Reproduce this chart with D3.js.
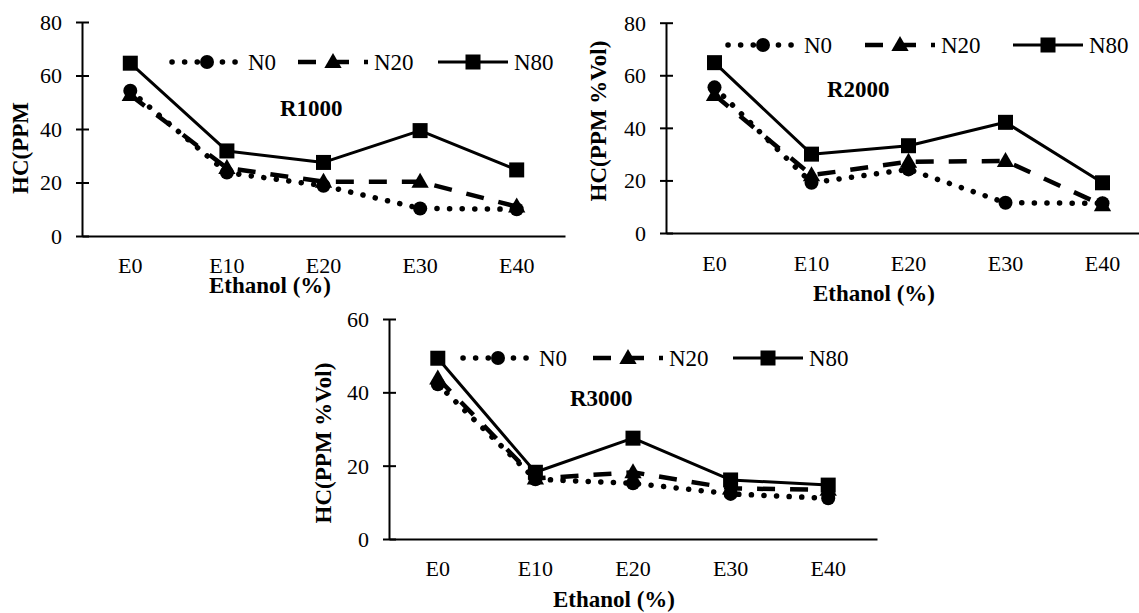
<!DOCTYPE html>
<html>
<head>
<meta charset="utf-8">
<script src="https://cdn.jsdelivr.net/npm/d3@7"></script>
<style>
  html, body { margin: 0; padding: 0; background: #fff; }
  svg { display: block; }
  svg text { font-family: "Liberation Serif", "Times New Roman", Tinos, "DejaVu Serif", serif; fill: #000; }
</style>
</head>
<body>
<svg id="chart" width="1139" height="613"></svg>
<script>
// ---- data ----
const categories = ["E0", "E10", "E20", "E30", "E40"];
const seriesNames = ["N0", "N20", "N80"];

const r1000_N0  = [54.3, 23.7, 18.8, 10.3, 10.0];
const r1000_N20 = [52.7, 25.4, 20.3, 20.3, 11.0];
const r1000_N80 = [64.6, 31.8, 27.5, 39.4, 24.7];

const r2000_N0  = [55.4, 19.1, 24.2, 11.5, 11.3];
const r2000_N20 = [52.5, 22.0, 27.1, 27.4, 10.6];
const r2000_N80 = [64.8, 30.0, 33.2, 42.1, 19.1];

const r3000_N0  = [42.2, 16.3, 15.2, 12.3, 11.1];
const r3000_N20 = [43.8, 16.5, 18.2, 13.8, 13.4];
const r3000_N80 = [49.3, 18.2, 27.5, 16.1, 14.7];

const ticks80 = [0, 20, 40, 60, 80];
const ticks60 = [0, 20, 40, 60];

const xTitle = "Ethanol (%)";

// ---- layout ----
const charts = [
  { label: "R1000", yTitle: "HC(PPM", series: [r1000_N0, r1000_N20, r1000_N80], ticks: ticks80, yMax: 80,
    axisX: 82, axisEnd: 565, yTop: 22, yBot: 236, tickBase: 273,
    xTitleCx: 270, xTitleY: 293, yTitleCx: 20, yTitleCy: 148,
    labelX: 280, labelY: 116, legendY: 62, legendX: [172, 298, 438] },
  { label: "R2000", yTitle: "HC(PPM %Vol)", series: [r2000_N0, r2000_N20, r2000_N80], ticks: ticks80, yMax: 80,
    axisX: 666, axisEnd: 1151, yTop: 22.7, yBot: 233, tickBase: 271,
    xTitleCx: 874, xTitleY: 301, yTitleCx: 598, yTitleCy: 121,
    labelX: 827, labelY: 97, legendY: 45, legendX: [728, 865, 1013] },
  { label: "R3000", yTitle: "HC(PPM %Vol)", series: [r3000_N0, r3000_N20, r3000_N80], ticks: ticks60, yMax: 60,
    axisX: 389, axisEnd: 877, yTop: 319, yBot: 539, tickBase: 576,
    xTitleCx: 614, xTitleY: 607, yTitleCx: 323, yTitleCy: 443,
    labelX: 570, labelY: 406, legendY: 358, legendX: [463, 593, 733] }
];

const styles = [
  { width: 5.5, dash: "0.1 12.5", cap: "round", marker: "circle" },
  { width: 4.5, dash: "18 15", cap: "butt", marker: "triangle" },
  { width: 3, dash: null, cap: "butt", marker: "square" }
];

const FONT = "'Liberation Serif', 'Times New Roman', Tinos, 'DejaVu Serif', serif";
const svg = d3.select("#chart");
const TICK_FS = 22;
const FS = 23;

function drawMarker(g, type, x, y) {
  if (type === "circle") {
    g.append("circle").attr("cx", x).attr("cy", y).attr("r", 7).attr("fill", "#000");
  } else if (type === "square") {
    g.append("rect").attr("x", x - 7.5).attr("y", y - 7.5).attr("width", 15).attr("height", 15).attr("fill", "#000");
  } else {
    g.append("path").attr("d", d3.symbol(d3.symbolTriangle, 130)())
      .attr("transform", `translate(${x},${y + 1})`).attr("fill", "#000");
  }
}

charts.forEach(c => {
  const g = svg.append("g").attr("font-family", FONT);
  const x = d3.scaleBand().domain(categories).range([c.axisX, c.axisEnd]);
  const y = d3.scaleLinear().domain([0, c.yMax]).range([c.yBot, c.yTop]);

  // x axis
  const xg = g.append("g").attr("transform", `translate(0,${c.yBot})`)
    .call(d3.axisBottom(x).tickSize(0).tickSizeOuter(0));
  xg.attr("font-family", FONT);
  xg.select(".domain").attr("stroke", "#000").attr("stroke-width", 2);
  xg.selectAll("text").attr("y", c.tickBase - c.yBot).attr("dy", 0)
    .attr("font-family", FONT).style("font-family", FONT).style("font-size", TICK_FS + "px");

  // y axis
  const yg = g.append("g").attr("transform", `translate(${c.axisX},0)`)
    .call(d3.axisLeft(y).tickValues(c.ticks).tickSize(6).tickSizeOuter(0).tickFormat(d3.format("d")));
  yg.attr("font-family", FONT);
  yg.select(".domain").attr("stroke", "#000").attr("stroke-width", 2);
  yg.selectAll(".tick line").attr("x1", 7).attr("x2", -6).attr("stroke", "#000").attr("stroke-width", 2);
  yg.selectAll(".tick text").attr("x", -20).attr("dy", "0.34em")
    .attr("font-family", FONT).style("font-family", FONT).style("font-size", TICK_FS + "px");

  // titles
  g.append("text").attr("x", c.xTitleCx).attr("y", c.xTitleY).attr("text-anchor", "middle")
    .style("font-family", FONT).style("font-size", FS + "px").style("font-weight", "bold").text(xTitle);
  g.append("text").attr("transform", `translate(${c.yTitleCx},${c.yTitleCy}) rotate(-90)`)
    .attr("text-anchor", "middle").attr("dy", "0.35em")
    .style("font-family", FONT).style("font-size", FS + "px").style("font-weight", "bold").text(c.yTitle);
  g.append("text").attr("x", c.labelX).attr("y", c.labelY)
    .style("font-family", FONT).style("font-size", FS + "px").style("font-weight", "bold").text(c.label);

  // series
  const line = d3.line().x((d, i) => x(categories[i]) + x.bandwidth() / 2).y(d => y(d));
  c.series.forEach((vals, si) => {
    const st = styles[si];
    const p = g.append("path").attr("d", line(vals)).attr("fill", "none")
      .attr("stroke", "#000").attr("stroke-width", st.width).attr("stroke-linecap", st.cap)
      .attr("stroke-linejoin", "round");
    if (st.dash) p.attr("stroke-dasharray", st.dash);
    vals.forEach((v, i) => drawMarker(g, st.marker, x(categories[i]) + x.bandwidth() / 2, y(v)));
  });

  // legend
  seriesNames.forEach((name, si) => {
    const st = styles[si];
    const lx = c.legendX[si], ly = c.legendY;
    const p = g.append("line").attr("x1", lx).attr("x2", lx + 70).attr("y1", ly).attr("y2", ly)
      .attr("stroke", "#000").attr("stroke-width", st.width).attr("stroke-linecap", st.cap);
    if (st.dash) p.attr("stroke-dasharray", st.dash);
    drawMarker(g, st.marker, lx + 35, ly);
    g.append("text").attr("x", lx + 76).attr("y", ly).attr("dy", "0.35em")
      .style("font-family", FONT).style("font-size", FS + "px").text(name);
  });
});
</script>
</body>
</html>
